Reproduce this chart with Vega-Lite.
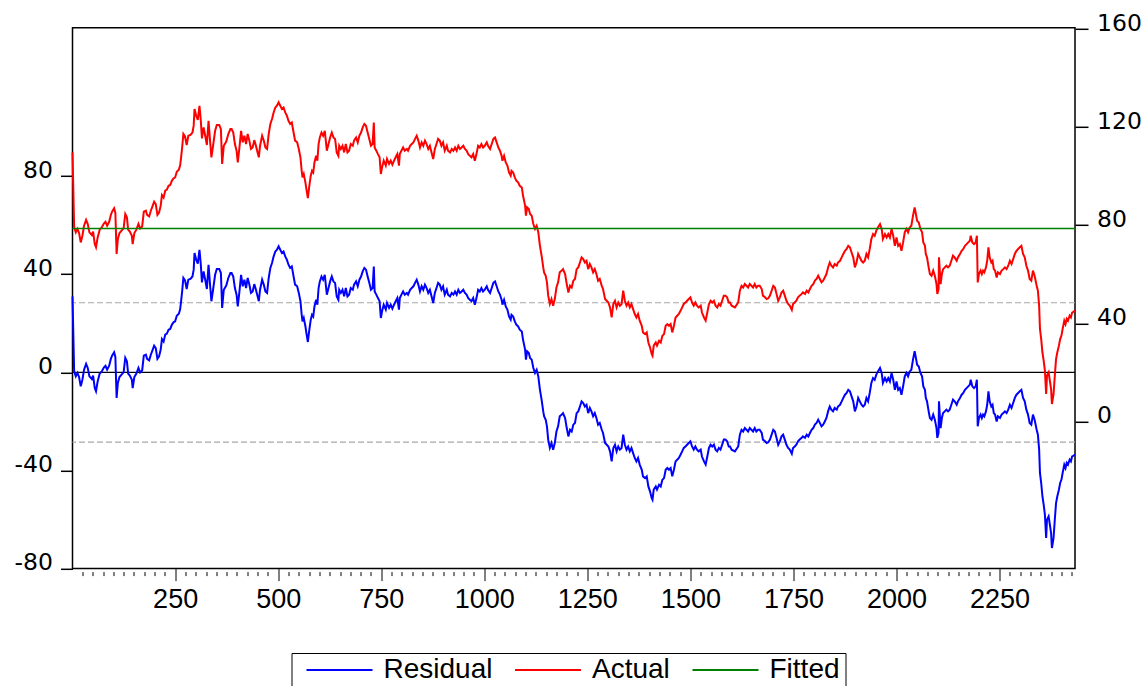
{
"$schema": "https://vega.github.io/schema/vega-lite/v6.json",
"width": 1002.5,
"height": 540.8,
"autosize": {"type": "none"},
"padding": {"left": 72.5, "top": 27.8, "right": 70, "bottom": 117.4},
"background": "white",
"config": {
  "view": {"stroke": "black", "strokeWidth": 1.5},
  "axis": {"grid": false, "domain": false, "tickColor": "black", "labelColor": "black"}
},
"datasets": {
"series": [
{"obs":1,"residual":31.0,"actual":109.7,"fitted":78.7},
{"obs":5,"residual":0.4,"actual":79.1,"fitted":78.7},
{"obs":9,"residual":-1.6,"actual":77.1,"fitted":78.7},
{"obs":13,"residual":-0.2,"actual":78.5,"fitted":78.7},
{"obs":17,"residual":-1.9,"actual":76.8,"fitted":78.7},
{"obs":21,"residual":-5.7,"actual":73.0,"fitted":78.7},
{"obs":25,"residual":-3.0,"actual":75.7,"fitted":78.7},
{"obs":29,"residual":1.1,"actual":79.8,"fitted":78.7},
{"obs":34,"residual":3.5,"actual":82.2,"fitted":78.7},
{"obs":38,"residual":1.8,"actual":80.5,"fitted":78.7},
{"obs":42,"residual":-1.6,"actual":77.1,"fitted":78.7},
{"obs":48,"residual":-2.7,"actual":76.0,"fitted":78.7},
{"obs":51,"residual":-1.3,"actual":77.4,"fitted":78.7},
{"obs":55,"residual":-6.4,"actual":72.3,"fitted":78.7},
{"obs":58,"residual":-7.7,"actual":71.0,"fitted":78.7},
{"obs":62,"residual":-3.7,"actual":75.0,"fitted":78.7},
{"obs":67,"residual":-0.5,"actual":78.2,"fitted":78.7},
{"obs":72,"residual":0.4,"actual":79.1,"fitted":78.7},
{"obs":77,"residual":2.0,"actual":80.7,"fitted":78.7},
{"obs":81,"residual":2.7,"actual":81.4,"fitted":78.7},
{"obs":85,"residual":1.1,"actual":79.8,"fitted":78.7},
{"obs":90,"residual":2.7,"actual":81.4,"fitted":78.7},
{"obs":94,"residual":5.5,"actual":84.2,"fitted":78.7},
{"obs":97,"residual":6.8,"actual":85.5,"fitted":78.7},
{"obs":102,"residual":8.2,"actual":86.9,"fitted":78.7},
{"obs":105,"residual":6.3,"actual":85.0,"fitted":78.7},
{"obs":108,"residual":-10.4,"actual":68.3,"fitted":78.7},
{"obs":111,"residual":-4.3,"actual":74.4,"fitted":78.7},
{"obs":115,"residual":-1.9,"actual":76.8,"fitted":78.7},
{"obs":120,"residual":-0.9,"actual":77.8,"fitted":78.7},
{"obs":125,"residual":0.0,"actual":78.7,"fitted":78.7},
{"obs":129,"residual":5.9,"actual":84.6,"fitted":78.7},
{"obs":133,"residual":4.5,"actual":83.2,"fitted":78.7},
{"obs":136,"residual":-0.5,"actual":78.2,"fitted":78.7},
{"obs":140,"residual":-1.3,"actual":77.4,"fitted":78.7},
{"obs":145,"residual":-3.0,"actual":75.7,"fitted":78.7},
{"obs":147,"residual":-6.4,"actual":72.3,"fitted":78.7},
{"obs":151,"residual":-1.9,"actual":76.8,"fitted":78.7},
{"obs":156,"residual":-0.5,"actual":78.2,"fitted":78.7},
{"obs":161,"residual":1.8,"actual":80.5,"fitted":78.7},
{"obs":165,"residual":0.0,"actual":78.7,"fitted":78.7},
{"obs":170,"residual":0.8,"actual":79.5,"fitted":78.7},
{"obs":174,"residual":6.8,"actual":85.5,"fitted":78.7},
{"obs":179,"residual":7.2,"actual":85.9,"fitted":78.7},
{"obs":182,"residual":5.5,"actual":84.2,"fitted":78.7},
{"obs":187,"residual":4.9,"actual":83.6,"fitted":78.7},
{"obs":191,"residual":7.2,"actual":85.9,"fitted":78.7},
{"obs":195,"residual":9.0,"actual":87.7,"fitted":78.7},
{"obs":199,"residual":10.9,"actual":89.6,"fitted":78.7},
{"obs":203,"residual":9.9,"actual":88.6,"fitted":78.7},
{"obs":207,"residual":5.5,"actual":84.2,"fitted":78.7},
{"obs":211,"residual":6.5,"actual":85.2,"fitted":78.7},
{"obs":215,"residual":9.3,"actual":88.0,"fitted":78.7},
{"obs":218,"residual":13.6,"actual":92.3,"fitted":78.7},
{"obs":222,"residual":12.6,"actual":91.3,"fitted":78.7},
{"obs":226,"residual":15.4,"actual":94.1,"fitted":78.7},
{"obs":230,"residual":15.8,"actual":94.5,"fitted":78.7},
{"obs":234,"residual":17.4,"actual":96.1,"fitted":78.7},
{"obs":238,"residual":17.7,"actual":96.4,"fitted":78.7},
{"obs":242,"residual":19.4,"actual":98.1,"fitted":78.7},
{"obs":246,"residual":20.4,"actual":99.1,"fitted":78.7},
{"obs":250,"residual":20.8,"actual":99.5,"fitted":78.7},
{"obs":254,"residual":23.1,"actual":101.8,"fitted":78.7},
{"obs":259,"residual":23.9,"actual":102.6,"fitted":78.7},
{"obs":262,"residual":25.6,"actual":104.3,"fitted":78.7},
{"obs":264,"residual":28.3,"actual":107.0,"fitted":78.7},
{"obs":267,"residual":33.0,"actual":111.7,"fitted":78.7},
{"obs":270,"residual":38.5,"actual":117.2,"fitted":78.7},
{"obs":274,"residual":37.5,"actual":116.2,"fitted":78.7},
{"obs":278,"residual":34.0,"actual":112.7,"fitted":78.7},
{"obs":282,"residual":37.8,"actual":116.5,"fitted":78.7},
{"obs":287,"residual":38.1,"actual":116.8,"fitted":78.7},
{"obs":292,"residual":39.1,"actual":117.8,"fitted":78.7},
{"obs":295,"residual":41.9,"actual":120.6,"fitted":78.7},
{"obs":297,"residual":48.7,"actual":127.4,"fitted":78.7},
{"obs":301,"residual":46.0,"actual":124.7,"fitted":78.7},
{"obs":305,"residual":44.3,"actual":123.0,"fitted":78.7},
{"obs":309,"residual":50.0,"actual":128.7,"fitted":78.7},
{"obs":312,"residual":44.6,"actual":123.3,"fitted":78.7},
{"obs":315,"residual":36.7,"actual":115.4,"fitted":78.7},
{"obs":319,"residual":41.2,"actual":119.9,"fitted":78.7},
{"obs":323,"residual":37.8,"actual":116.5,"fitted":78.7},
{"obs":327,"residual":34.0,"actual":112.7,"fitted":78.7},
{"obs":331,"residual":43.9,"actual":122.6,"fitted":78.7},
{"obs":335,"residual":35.1,"actual":113.8,"fitted":78.7},
{"obs":338,"residual":29.0,"actual":107.7,"fitted":78.7},
{"obs":342,"residual":33.7,"actual":112.4,"fitted":78.7},
{"obs":347,"residual":39.8,"actual":118.5,"fitted":78.7},
{"obs":351,"residual":42.2,"actual":120.9,"fitted":78.7},
{"obs":357,"residual":42.2,"actual":120.9,"fitted":78.7},
{"obs":361,"residual":40.5,"actual":119.2,"fitted":78.7},
{"obs":364,"residual":26.3,"actual":105.0,"fitted":78.7},
{"obs":368,"residual":33.7,"actual":112.4,"fitted":78.7},
{"obs":374,"residual":35.4,"actual":114.1,"fitted":78.7},
{"obs":379,"residual":38.5,"actual":117.2,"fitted":78.7},
{"obs":384,"residual":40.5,"actual":119.2,"fitted":78.7},
{"obs":387,"residual":40.5,"actual":119.2,"fitted":78.7},
{"obs":391,"residual":39.1,"actual":117.8,"fitted":78.7},
{"obs":395,"residual":34.4,"actual":113.1,"fitted":78.7},
{"obs":399,"residual":31.7,"actual":110.4,"fitted":78.7},
{"obs":402,"residual":26.9,"actual":105.6,"fitted":78.7},
{"obs":406,"residual":33.0,"actual":111.7,"fitted":78.7},
{"obs":410,"residual":39.8,"actual":118.5,"fitted":78.7},
{"obs":414,"residual":35.1,"actual":113.8,"fitted":78.7},
{"obs":418,"residual":37.8,"actual":116.5,"fitted":78.7},
{"obs":422,"residual":34.4,"actual":113.1,"fitted":78.7},
{"obs":426,"residual":38.5,"actual":117.2,"fitted":78.7},
{"obs":430,"residual":35.8,"actual":114.5,"fitted":78.7},
{"obs":434,"residual":32.4,"actual":111.1,"fitted":78.7},
{"obs":438,"residual":33.0,"actual":111.7,"fitted":78.7},
{"obs":442,"residual":36.0,"actual":114.7,"fitted":78.7},
{"obs":446,"residual":33.7,"actual":112.4,"fitted":78.7},
{"obs":450,"residual":31.0,"actual":109.7,"fitted":78.7},
{"obs":453,"residual":29.0,"actual":107.7,"fitted":78.7},
{"obs":456,"residual":33.7,"actual":112.4,"fitted":78.7},
{"obs":461,"residual":37.8,"actual":116.5,"fitted":78.7},
{"obs":465,"residual":35.8,"actual":114.5,"fitted":78.7},
{"obs":469,"residual":33.0,"actual":111.7,"fitted":78.7},
{"obs":473,"residual":32.4,"actual":111.1,"fitted":78.7},
{"obs":477,"residual":38.5,"actual":117.2,"fitted":78.7},
{"obs":481,"residual":42.6,"actual":121.3,"fitted":78.7},
{"obs":485,"residual":44.6,"actual":123.3,"fitted":78.7},
{"obs":489,"residual":47.3,"actual":126.0,"fitted":78.7},
{"obs":493,"residual":49.3,"actual":128.0,"fitted":78.7},
{"obs":497,"residual":50.0,"actual":128.7,"fitted":78.7},
{"obs":501,"residual":51.4,"actual":130.1,"fitted":78.7},
{"obs":505,"residual":50.0,"actual":128.7,"fitted":78.7},
{"obs":509,"residual":48.7,"actual":127.4,"fitted":78.7},
{"obs":513,"residual":49.3,"actual":128.0,"fitted":78.7},
{"obs":517,"residual":47.3,"actual":126.0,"fitted":78.7},
{"obs":521,"residual":46.0,"actual":124.7,"fitted":78.7},
{"obs":525,"residual":43.9,"actual":122.6,"fitted":78.7},
{"obs":529,"residual":42.6,"actual":121.3,"fitted":78.7},
{"obs":533,"residual":43.2,"actual":121.9,"fitted":78.7},
{"obs":538,"residual":38.5,"actual":117.2,"fitted":78.7},
{"obs":541,"residual":35.8,"actual":114.5,"fitted":78.7},
{"obs":546,"residual":35.1,"actual":113.8,"fitted":78.7},
{"obs":550,"residual":32.4,"actual":111.1,"fitted":78.7},
{"obs":554,"residual":29.0,"actual":107.7,"fitted":78.7},
{"obs":557,"residual":23.5,"actual":102.2,"fitted":78.7},
{"obs":559,"residual":20.8,"actual":99.5,"fitted":78.7},
{"obs":562,"residual":22.2,"actual":100.9,"fitted":78.7},
{"obs":566,"residual":18.8,"actual":97.5,"fitted":78.7},
{"obs":569,"residual":15.4,"actual":94.1,"fitted":78.7},
{"obs":572,"residual":12.4,"actual":91.1,"fitted":78.7},
{"obs":575,"residual":16.7,"actual":95.4,"fitted":78.7},
{"obs":579,"residual":21.5,"actual":100.2,"fitted":78.7},
{"obs":582,"residual":23.5,"actual":102.2,"fitted":78.7},
{"obs":585,"residual":22.8,"actual":101.5,"fitted":78.7},
{"obs":588,"residual":26.9,"actual":105.6,"fitted":78.7},
{"obs":592,"residual":29.6,"actual":108.3,"fitted":78.7},
{"obs":595,"residual":27.6,"actual":106.3,"fitted":78.7},
{"obs":598,"residual":34.4,"actual":113.1,"fitted":78.7},
{"obs":601,"residual":37.1,"actual":115.8,"fitted":78.7},
{"obs":605,"residual":39.1,"actual":117.8,"fitted":78.7},
{"obs":609,"residual":37.8,"actual":116.5,"fitted":78.7},
{"obs":613,"residual":39.8,"actual":118.5,"fitted":78.7},
{"obs":618,"residual":31.7,"actual":110.4,"fitted":78.7},
{"obs":621,"residual":33.7,"actual":112.4,"fitted":78.7},
{"obs":626,"residual":37.1,"actual":115.8,"fitted":78.7},
{"obs":630,"residual":39.1,"actual":117.8,"fitted":78.7},
{"obs":634,"residual":37.1,"actual":115.8,"fitted":78.7},
{"obs":638,"residual":36.5,"actual":115.2,"fitted":78.7},
{"obs":642,"residual":31.0,"actual":109.7,"fitted":78.7},
{"obs":646,"residual":29.6,"actual":108.3,"fitted":78.7},
{"obs":648,"residual":33.7,"actual":112.4,"fitted":78.7},
{"obs":652,"residual":32.4,"actual":111.1,"fitted":78.7},
{"obs":656,"residual":33.7,"actual":112.4,"fitted":78.7},
{"obs":660,"residual":31.0,"actual":109.7,"fitted":78.7},
{"obs":664,"residual":34.4,"actual":113.1,"fitted":78.7},
{"obs":668,"residual":31.0,"actual":109.7,"fitted":78.7},
{"obs":672,"residual":31.7,"actual":110.4,"fitted":78.7},
{"obs":676,"residual":34.4,"actual":113.1,"fitted":78.7},
{"obs":681,"residual":33.7,"actual":112.4,"fitted":78.7},
{"obs":684,"residual":35.8,"actual":114.5,"fitted":78.7},
{"obs":689,"residual":37.1,"actual":115.8,"fitted":78.7},
{"obs":693,"residual":35.1,"actual":113.8,"fitted":78.7},
{"obs":697,"residual":37.8,"actual":116.5,"fitted":78.7},
{"obs":701,"residual":39.1,"actual":117.8,"fitted":78.7},
{"obs":705,"residual":41.2,"actual":119.9,"fitted":78.7},
{"obs":709,"residual":42.6,"actual":121.3,"fitted":78.7},
{"obs":713,"residual":41.9,"actual":120.6,"fitted":78.7},
{"obs":717,"residual":39.1,"actual":117.8,"fitted":78.7},
{"obs":721,"residual":36.5,"actual":115.2,"fitted":78.7},
{"obs":725,"residual":33.7,"actual":112.4,"fitted":78.7},
{"obs":729,"residual":34.4,"actual":113.1,"fitted":78.7},
{"obs":732,"residual":43.2,"actual":121.9,"fitted":78.7},
{"obs":734,"residual":33.0,"actual":111.7,"fitted":78.7},
{"obs":738,"residual":31.7,"actual":110.4,"fitted":78.7},
{"obs":742,"residual":30.3,"actual":109.0,"fitted":78.7},
{"obs":746,"residual":29.0,"actual":107.7,"fitted":78.7},
{"obs":749,"residual":22.2,"actual":100.9,"fitted":78.7},
{"obs":752,"residual":24.9,"actual":103.6,"fitted":78.7},
{"obs":756,"residual":27.6,"actual":106.3,"fitted":78.7},
{"obs":761,"residual":25.6,"actual":104.3,"fitted":78.7},
{"obs":764,"residual":28.3,"actual":107.0,"fitted":78.7},
{"obs":769,"residual":26.3,"actual":105.0,"fitted":78.7},
{"obs":773,"residual":27.6,"actual":106.3,"fitted":78.7},
{"obs":777,"residual":26.0,"actual":104.7,"fitted":78.7},
{"obs":781,"residual":27.6,"actual":106.3,"fitted":78.7},
{"obs":785,"residual":29.0,"actual":107.7,"fitted":78.7},
{"obs":789,"residual":30.3,"actual":109.0,"fitted":78.7},
{"obs":793,"residual":25.6,"actual":104.3,"fitted":78.7},
{"obs":795,"residual":30.3,"actual":109.0,"fitted":78.7},
{"obs":799,"residual":31.7,"actual":110.4,"fitted":78.7},
{"obs":803,"residual":33.0,"actual":111.7,"fitted":78.7},
{"obs":807,"residual":31.7,"actual":110.4,"fitted":78.7},
{"obs":812,"residual":32.4,"actual":111.1,"fitted":78.7},
{"obs":815,"residual":31.7,"actual":110.4,"fitted":78.7},
{"obs":820,"residual":33.7,"actual":112.4,"fitted":78.7},
{"obs":824,"residual":34.4,"actual":113.1,"fitted":78.7},
{"obs":828,"residual":35.1,"actual":113.8,"fitted":78.7},
{"obs":832,"residual":36.5,"actual":115.2,"fitted":78.7},
{"obs":836,"residual":37.8,"actual":116.5,"fitted":78.7},
{"obs":840,"residual":35.8,"actual":114.5,"fitted":78.7},
{"obs":844,"residual":33.0,"actual":111.7,"fitted":78.7},
{"obs":848,"residual":35.1,"actual":113.8,"fitted":78.7},
{"obs":852,"residual":33.7,"actual":112.4,"fitted":78.7},
{"obs":856,"residual":35.8,"actual":114.5,"fitted":78.7},
{"obs":860,"residual":34.4,"actual":113.1,"fitted":78.7},
{"obs":864,"residual":32.4,"actual":111.1,"fitted":78.7},
{"obs":868,"residual":33.7,"actual":112.4,"fitted":78.7},
{"obs":872,"residual":31.0,"actual":109.7,"fitted":78.7},
{"obs":876,"residual":28.3,"actual":107.0,"fitted":78.7},
{"obs":880,"residual":32.4,"actual":111.1,"fitted":78.7},
{"obs":884,"residual":34.4,"actual":113.1,"fitted":78.7},
{"obs":888,"residual":36.5,"actual":115.2,"fitted":78.7},
{"obs":892,"residual":35.8,"actual":114.5,"fitted":78.7},
{"obs":896,"residual":33.7,"actual":112.4,"fitted":78.7},
{"obs":900,"residual":35.1,"actual":113.8,"fitted":78.7},
{"obs":904,"residual":31.7,"actual":110.4,"fitted":78.7},
{"obs":909,"residual":33.7,"actual":112.4,"fitted":78.7},
{"obs":912,"residual":31.7,"actual":110.4,"fitted":78.7},
{"obs":917,"residual":31.0,"actual":109.7,"fitted":78.7},
{"obs":921,"residual":32.4,"actual":111.1,"fitted":78.7},
{"obs":925,"residual":31.7,"actual":110.4,"fitted":78.7},
{"obs":929,"residual":33.0,"actual":111.7,"fitted":78.7},
{"obs":933,"residual":31.7,"actual":110.4,"fitted":78.7},
{"obs":937,"residual":33.7,"actual":112.4,"fitted":78.7},
{"obs":941,"residual":32.4,"actual":111.1,"fitted":78.7},
{"obs":945,"residual":33.0,"actual":111.7,"fitted":78.7},
{"obs":949,"residual":33.7,"actual":112.4,"fitted":78.7},
{"obs":953,"residual":32.4,"actual":111.1,"fitted":78.7},
{"obs":957,"residual":31.7,"actual":110.4,"fitted":78.7},
{"obs":961,"residual":30.3,"actual":109.0,"fitted":78.7},
{"obs":965,"residual":29.6,"actual":108.3,"fitted":78.7},
{"obs":969,"residual":29.0,"actual":107.7,"fitted":78.7},
{"obs":973,"residual":30.3,"actual":109.0,"fitted":78.7},
{"obs":977,"residual":27.6,"actual":106.3,"fitted":78.7},
{"obs":981,"residual":30.3,"actual":109.0,"fitted":78.7},
{"obs":985,"residual":33.7,"actual":112.4,"fitted":78.7},
{"obs":989,"residual":33.0,"actual":111.7,"fitted":78.7},
{"obs":993,"residual":34.4,"actual":113.1,"fitted":78.7},
{"obs":997,"residual":33.0,"actual":111.7,"fitted":78.7},
{"obs":1001,"residual":33.7,"actual":112.4,"fitted":78.7},
{"obs":1006,"residual":35.1,"actual":113.8,"fitted":78.7},
{"obs":1009,"residual":33.7,"actual":112.4,"fitted":78.7},
{"obs":1014,"residual":32.4,"actual":111.1,"fitted":78.7},
{"obs":1018,"residual":34.4,"actual":113.1,"fitted":78.7},
{"obs":1022,"residual":36.5,"actual":115.2,"fitted":78.7},
{"obs":1026,"residual":37.1,"actual":115.8,"fitted":78.7},
{"obs":1030,"residual":35.1,"actual":113.8,"fitted":78.7},
{"obs":1034,"residual":33.0,"actual":111.7,"fitted":78.7},
{"obs":1038,"residual":31.7,"actual":110.4,"fitted":78.7},
{"obs":1042,"residual":29.6,"actual":108.3,"fitted":78.7},
{"obs":1044,"residual":27.6,"actual":106.3,"fitted":78.7},
{"obs":1048,"residual":29.6,"actual":108.3,"fitted":78.7},
{"obs":1052,"residual":26.9,"actual":105.6,"fitted":78.7},
{"obs":1056,"residual":25.6,"actual":104.3,"fitted":78.7},
{"obs":1060,"residual":22.8,"actual":101.5,"fitted":78.7},
{"obs":1064,"residual":21.5,"actual":100.2,"fitted":78.7},
{"obs":1066,"residual":23.5,"actual":102.2,"fitted":78.7},
{"obs":1070,"residual":22.8,"actual":101.5,"fitted":78.7},
{"obs":1074,"residual":20.8,"actual":99.5,"fitted":78.7},
{"obs":1078,"residual":19.4,"actual":98.1,"fitted":78.7},
{"obs":1082,"residual":18.8,"actual":97.5,"fitted":78.7},
{"obs":1086,"residual":17.4,"actual":96.1,"fitted":78.7},
{"obs":1091,"residual":16.7,"actual":95.4,"fitted":78.7},
{"obs":1094,"residual":13.3,"actual":92.0,"fitted":78.7},
{"obs":1099,"residual":9.3,"actual":88.0,"fitted":78.7},
{"obs":1101,"residual":5.2,"actual":83.9,"fitted":78.7},
{"obs":1104,"residual":8.6,"actual":87.3,"fitted":78.7},
{"obs":1108,"residual":7.9,"actual":86.6,"fitted":78.7},
{"obs":1111,"residual":5.9,"actual":84.6,"fitted":78.7},
{"obs":1115,"residual":5.2,"actual":83.9,"fitted":78.7},
{"obs":1119,"residual":1.8,"actual":80.5,"fitted":78.7},
{"obs":1123,"residual":-0.2,"actual":78.5,"fitted":78.7},
{"obs":1127,"residual":1.1,"actual":79.8,"fitted":78.7},
{"obs":1131,"residual":-1.6,"actual":77.1,"fitted":78.7},
{"obs":1135,"residual":-7.1,"actual":71.6,"fitted":78.7},
{"obs":1139,"residual":-11.1,"actual":67.6,"fitted":78.7},
{"obs":1143,"residual":-15.9,"actual":62.8,"fitted":78.7},
{"obs":1145,"residual":-17.9,"actual":60.8,"fitted":78.7},
{"obs":1149,"residual":-19.3,"actual":59.4,"fitted":78.7},
{"obs":1152,"residual":-22.0,"actual":56.7,"fitted":78.7},
{"obs":1155,"residual":-27.4,"actual":51.3,"fitted":78.7},
{"obs":1159,"residual":-30.8,"actual":47.9,"fitted":78.7},
{"obs":1163,"residual":-28.8,"actual":49.9,"fitted":78.7},
{"obs":1167,"residual":-31.5,"actual":47.2,"fitted":78.7},
{"obs":1171,"residual":-28.8,"actual":49.9,"fitted":78.7},
{"obs":1175,"residual":-24.1,"actual":54.6,"fitted":78.7},
{"obs":1179,"residual":-22.0,"actual":56.7,"fitted":78.7},
{"obs":1183,"residual":-17.9,"actual":60.8,"fitted":78.7},
{"obs":1188,"residual":-17.2,"actual":61.5,"fitted":78.7},
{"obs":1191,"residual":-16.6,"actual":62.1,"fitted":78.7},
{"obs":1196,"residual":-18.6,"actual":60.1,"fitted":78.7},
{"obs":1200,"residual":-22.7,"actual":56.0,"fitted":78.7},
{"obs":1204,"residual":-26.1,"actual":52.6,"fitted":78.7},
{"obs":1208,"residual":-23.4,"actual":55.3,"fitted":78.7},
{"obs":1212,"residual":-24.1,"actual":54.6,"fitted":78.7},
{"obs":1216,"residual":-21.3,"actual":57.4,"fitted":78.7},
{"obs":1220,"residual":-20.6,"actual":58.1,"fitted":78.7},
{"obs":1224,"residual":-16.6,"actual":62.1,"fitted":78.7},
{"obs":1228,"residual":-15.9,"actual":62.8,"fitted":78.7},
{"obs":1232,"residual":-13.9,"actual":64.8,"fitted":78.7},
{"obs":1236,"residual":-11.8,"actual":66.9,"fitted":78.7},
{"obs":1240,"residual":-12.5,"actual":66.2,"fitted":78.7},
{"obs":1244,"residual":-13.9,"actual":64.8,"fitted":78.7},
{"obs":1248,"residual":-13.2,"actual":65.5,"fitted":78.7},
{"obs":1252,"residual":-16.6,"actual":62.1,"fitted":78.7},
{"obs":1256,"residual":-14.5,"actual":64.2,"fitted":78.7},
{"obs":1260,"residual":-15.9,"actual":62.8,"fitted":78.7},
{"obs":1264,"residual":-17.9,"actual":60.8,"fitted":78.7},
{"obs":1268,"residual":-16.6,"actual":62.1,"fitted":78.7},
{"obs":1272,"residual":-18.6,"actual":60.1,"fitted":78.7},
{"obs":1276,"residual":-21.3,"actual":57.4,"fitted":78.7},
{"obs":1280,"residual":-20.6,"actual":58.1,"fitted":78.7},
{"obs":1285,"residual":-23.4,"actual":55.3,"fitted":78.7},
{"obs":1288,"residual":-24.7,"actual":54.0,"fitted":78.7},
{"obs":1293,"residual":-28.8,"actual":49.9,"fitted":78.7},
{"obs":1297,"residual":-29.5,"actual":49.2,"fitted":78.7},
{"obs":1301,"residual":-30.2,"actual":48.5,"fitted":78.7},
{"obs":1305,"residual":-32.2,"actual":46.5,"fitted":78.7},
{"obs":1309,"residual":-36.3,"actual":42.4,"fitted":78.7},
{"obs":1313,"residual":-30.8,"actual":47.9,"fitted":78.7},
{"obs":1317,"residual":-29.5,"actual":49.2,"fitted":78.7},
{"obs":1321,"residual":-32.2,"actual":46.5,"fitted":78.7},
{"obs":1325,"residual":-30.2,"actual":48.5,"fitted":78.7},
{"obs":1329,"residual":-31.5,"actual":47.2,"fitted":78.7},
{"obs":1333,"residual":-30.8,"actual":47.9,"fitted":78.7},
{"obs":1337,"residual":-25.4,"actual":53.3,"fitted":78.7},
{"obs":1341,"residual":-29.5,"actual":49.2,"fitted":78.7},
{"obs":1345,"residual":-31.5,"actual":47.2,"fitted":78.7},
{"obs":1349,"residual":-30.2,"actual":48.5,"fitted":78.7},
{"obs":1353,"residual":-32.2,"actual":46.5,"fitted":78.7},
{"obs":1357,"residual":-30.8,"actual":47.9,"fitted":78.7},
{"obs":1361,"residual":-32.9,"actual":45.8,"fitted":78.7},
{"obs":1365,"residual":-34.9,"actual":43.8,"fitted":78.7},
{"obs":1369,"residual":-36.3,"actual":42.4,"fitted":78.7},
{"obs":1373,"residual":-34.9,"actual":43.8,"fitted":78.7},
{"obs":1377,"residual":-37.6,"actual":41.1,"fitted":78.7},
{"obs":1382,"residual":-39.7,"actual":39.0,"fitted":78.7},
{"obs":1385,"residual":-42.4,"actual":36.3,"fitted":78.7},
{"obs":1390,"residual":-43.1,"actual":35.6,"fitted":78.7},
{"obs":1394,"residual":-42.4,"actual":36.3,"fitted":78.7},
{"obs":1398,"residual":-46.5,"actual":32.2,"fitted":78.7},
{"obs":1402,"residual":-48.5,"actual":30.2,"fitted":78.7},
{"obs":1406,"residual":-51.2,"actual":27.5,"fitted":78.7},
{"obs":1408,"residual":-51.9,"actual":26.8,"fitted":78.7},
{"obs":1411,"residual":-47.8,"actual":30.9,"fitted":78.7},
{"obs":1416,"residual":-46.5,"actual":32.2,"fitted":78.7},
{"obs":1419,"residual":-47.8,"actual":30.9,"fitted":78.7},
{"obs":1424,"residual":-45.8,"actual":32.9,"fitted":78.7},
{"obs":1428,"residual":-46.5,"actual":32.2,"fitted":78.7},
{"obs":1432,"residual":-43.8,"actual":34.9,"fitted":78.7},
{"obs":1436,"residual":-43.1,"actual":35.6,"fitted":78.7},
{"obs":1440,"residual":-39.7,"actual":39.0,"fitted":78.7},
{"obs":1444,"residual":-39.0,"actual":39.7,"fitted":78.7},
{"obs":1448,"residual":-39.7,"actual":39.0,"fitted":78.7},
{"obs":1452,"residual":-39.0,"actual":39.7,"fitted":78.7},
{"obs":1456,"residual":-42.4,"actual":36.3,"fitted":78.7},
{"obs":1460,"residual":-39.7,"actual":39.0,"fitted":78.7},
{"obs":1464,"residual":-36.3,"actual":42.4,"fitted":78.7},
{"obs":1468,"residual":-35.6,"actual":43.1,"fitted":78.7},
{"obs":1472,"residual":-34.9,"actual":43.8,"fitted":78.7},
{"obs":1476,"residual":-33.6,"actual":45.1,"fitted":78.7},
{"obs":1480,"residual":-32.2,"actual":46.5,"fitted":78.7},
{"obs":1484,"residual":-30.8,"actual":47.9,"fitted":78.7},
{"obs":1488,"residual":-30.2,"actual":48.5,"fitted":78.7},
{"obs":1492,"residual":-29.5,"actual":49.2,"fitted":78.7},
{"obs":1496,"residual":-28.8,"actual":49.9,"fitted":78.7},
{"obs":1500,"residual":-28.1,"actual":50.6,"fitted":78.7},
{"obs":1504,"residual":-30.2,"actual":48.5,"fitted":78.7},
{"obs":1508,"residual":-31.5,"actual":47.2,"fitted":78.7},
{"obs":1512,"residual":-30.2,"actual":48.5,"fitted":78.7},
{"obs":1516,"residual":-31.5,"actual":47.2,"fitted":78.7},
{"obs":1520,"residual":-32.2,"actual":46.5,"fitted":78.7},
{"obs":1525,"residual":-31.5,"actual":47.2,"fitted":78.7},
{"obs":1528,"residual":-34.3,"actual":44.4,"fitted":78.7},
{"obs":1533,"residual":-36.3,"actual":42.4,"fitted":78.7},
{"obs":1537,"residual":-37.6,"actual":41.1,"fitted":78.7},
{"obs":1541,"residual":-34.3,"actual":44.4,"fitted":78.7},
{"obs":1545,"residual":-30.8,"actual":47.9,"fitted":78.7},
{"obs":1549,"residual":-29.5,"actual":49.2,"fitted":78.7},
{"obs":1553,"residual":-30.2,"actual":48.5,"fitted":78.7},
{"obs":1557,"residual":-29.5,"actual":49.2,"fitted":78.7},
{"obs":1561,"residual":-31.5,"actual":47.2,"fitted":78.7},
{"obs":1565,"residual":-32.2,"actual":46.5,"fitted":78.7},
{"obs":1569,"residual":-30.8,"actual":47.9,"fitted":78.7},
{"obs":1573,"residual":-31.5,"actual":47.2,"fitted":78.7},
{"obs":1577,"residual":-29.5,"actual":49.2,"fitted":78.7},
{"obs":1581,"residual":-27.4,"actual":51.3,"fitted":78.7},
{"obs":1585,"residual":-27.4,"actual":51.3,"fitted":78.7},
{"obs":1589,"residual":-28.1,"actual":50.6,"fitted":78.7},
{"obs":1593,"residual":-30.2,"actual":48.5,"fitted":78.7},
{"obs":1596,"residual":-30.2,"actual":48.5,"fitted":78.7},
{"obs":1600,"residual":-31.5,"actual":47.2,"fitted":78.7},
{"obs":1608,"residual":-32.2,"actual":46.5,"fitted":78.7},
{"obs":1616,"residual":-30.2,"actual":48.5,"fitted":78.7},
{"obs":1620,"residual":-25.4,"actual":53.3,"fitted":78.7},
{"obs":1624,"residual":-23.4,"actual":55.3,"fitted":78.7},
{"obs":1628,"residual":-24.1,"actual":54.6,"fitted":78.7},
{"obs":1632,"residual":-22.7,"actual":56.0,"fitted":78.7},
{"obs":1636,"residual":-23.4,"actual":55.3,"fitted":78.7},
{"obs":1640,"residual":-24.1,"actual":54.6,"fitted":78.7},
{"obs":1644,"residual":-22.7,"actual":56.0,"fitted":78.7},
{"obs":1648,"residual":-23.4,"actual":55.3,"fitted":78.7},
{"obs":1652,"residual":-24.1,"actual":54.6,"fitted":78.7},
{"obs":1656,"residual":-22.7,"actual":56.0,"fitted":78.7},
{"obs":1660,"residual":-24.1,"actual":54.6,"fitted":78.7},
{"obs":1664,"residual":-23.4,"actual":55.3,"fitted":78.7},
{"obs":1668,"residual":-23.4,"actual":55.3,"fitted":78.7},
{"obs":1673,"residual":-24.7,"actual":54.0,"fitted":78.7},
{"obs":1676,"residual":-27.4,"actual":51.3,"fitted":78.7},
{"obs":1681,"residual":-28.1,"actual":50.6,"fitted":78.7},
{"obs":1685,"residual":-28.8,"actual":49.9,"fitted":78.7},
{"obs":1689,"residual":-28.5,"actual":50.2,"fitted":78.7},
{"obs":1693,"residual":-27.4,"actual":51.3,"fitted":78.7},
{"obs":1697,"residual":-25.4,"actual":53.3,"fitted":78.7},
{"obs":1701,"residual":-23.4,"actual":55.3,"fitted":78.7},
{"obs":1705,"residual":-24.1,"actual":54.6,"fitted":78.7},
{"obs":1709,"residual":-26.7,"actual":52.0,"fitted":78.7},
{"obs":1713,"residual":-29.5,"actual":49.2,"fitted":78.7},
{"obs":1717,"residual":-28.1,"actual":50.6,"fitted":78.7},
{"obs":1721,"residual":-26.1,"actual":52.6,"fitted":78.7},
{"obs":1725,"residual":-25.4,"actual":53.3,"fitted":78.7},
{"obs":1729,"residual":-27.4,"actual":51.3,"fitted":78.7},
{"obs":1733,"residual":-29.5,"actual":49.2,"fitted":78.7},
{"obs":1737,"residual":-30.8,"actual":47.9,"fitted":78.7},
{"obs":1741,"residual":-31.5,"actual":47.2,"fitted":78.7},
{"obs":1746,"residual":-33.2,"actual":45.5,"fitted":78.7},
{"obs":1749,"residual":-30.8,"actual":47.9,"fitted":78.7},
{"obs":1753,"residual":-30.2,"actual":48.5,"fitted":78.7},
{"obs":1757,"residual":-29.5,"actual":49.2,"fitted":78.7},
{"obs":1761,"residual":-28.1,"actual":50.6,"fitted":78.7},
{"obs":1765,"residual":-27.4,"actual":51.3,"fitted":78.7},
{"obs":1770,"residual":-26.7,"actual":52.0,"fitted":78.7},
{"obs":1773,"residual":-26.1,"actual":52.6,"fitted":78.7},
{"obs":1778,"residual":-26.7,"actual":52.0,"fitted":78.7},
{"obs":1782,"residual":-25.4,"actual":53.3,"fitted":78.7},
{"obs":1786,"residual":-26.1,"actual":52.6,"fitted":78.7},
{"obs":1790,"residual":-24.7,"actual":54.0,"fitted":78.7},
{"obs":1794,"residual":-23.4,"actual":55.3,"fitted":78.7},
{"obs":1798,"residual":-22.7,"actual":56.0,"fitted":78.7},
{"obs":1802,"residual":-21.3,"actual":57.4,"fitted":78.7},
{"obs":1806,"residual":-20.6,"actual":58.1,"fitted":78.7},
{"obs":1810,"residual":-19.3,"actual":59.4,"fitted":78.7},
{"obs":1814,"residual":-20.6,"actual":58.1,"fitted":78.7},
{"obs":1818,"residual":-22.0,"actual":56.7,"fitted":78.7},
{"obs":1822,"residual":-21.3,"actual":57.4,"fitted":78.7},
{"obs":1826,"residual":-20.0,"actual":58.7,"fitted":78.7},
{"obs":1830,"residual":-18.6,"actual":60.1,"fitted":78.7},
{"obs":1834,"residual":-15.9,"actual":62.8,"fitted":78.7},
{"obs":1838,"residual":-13.9,"actual":64.8,"fitted":78.7},
{"obs":1842,"residual":-15.2,"actual":63.5,"fitted":78.7},
{"obs":1846,"residual":-15.9,"actual":62.8,"fitted":78.7},
{"obs":1850,"residual":-14.5,"actual":64.2,"fitted":78.7},
{"obs":1855,"residual":-15.2,"actual":63.5,"fitted":78.7},
{"obs":1858,"residual":-13.9,"actual":64.8,"fitted":78.7},
{"obs":1863,"residual":-13.2,"actual":65.5,"fitted":78.7},
{"obs":1867,"residual":-11.8,"actual":66.9,"fitted":78.7},
{"obs":1871,"residual":-10.4,"actual":68.3,"fitted":78.7},
{"obs":1875,"residual":-9.1,"actual":69.6,"fitted":78.7},
{"obs":1879,"residual":-8.4,"actual":70.3,"fitted":78.7},
{"obs":1883,"residual":-7.1,"actual":71.6,"fitted":78.7},
{"obs":1887,"residual":-7.7,"actual":71.0,"fitted":78.7},
{"obs":1891,"residual":-9.8,"actual":68.9,"fitted":78.7},
{"obs":1895,"residual":-11.8,"actual":66.9,"fitted":78.7},
{"obs":1899,"residual":-15.9,"actual":62.8,"fitted":78.7},
{"obs":1903,"residual":-13.9,"actual":64.8,"fitted":78.7},
{"obs":1907,"residual":-10.4,"actual":68.3,"fitted":78.7},
{"obs":1911,"residual":-11.8,"actual":66.9,"fitted":78.7},
{"obs":1915,"residual":-13.2,"actual":65.5,"fitted":78.7},
{"obs":1919,"residual":-13.9,"actual":64.8,"fitted":78.7},
{"obs":1923,"residual":-13.2,"actual":65.5,"fitted":78.7},
{"obs":1927,"residual":-10.4,"actual":68.3,"fitted":78.7},
{"obs":1931,"residual":-11.8,"actual":66.9,"fitted":78.7},
{"obs":1935,"residual":-8.4,"actual":70.3,"fitted":78.7},
{"obs":1939,"residual":-4.3,"actual":74.4,"fitted":78.7},
{"obs":1943,"residual":-2.3,"actual":76.4,"fitted":78.7},
{"obs":1947,"residual":-3.0,"actual":75.7,"fitted":78.7},
{"obs":1951,"residual":-0.9,"actual":77.8,"fitted":78.7},
{"obs":1955,"residual":0.4,"actual":79.1,"fitted":78.7},
{"obs":1960,"residual":1.8,"actual":80.5,"fitted":78.7},
{"obs":1964,"residual":-0.2,"actual":78.5,"fitted":78.7},
{"obs":1967,"residual":-4.3,"actual":74.4,"fitted":78.7},
{"obs":1972,"residual":-2.3,"actual":76.4,"fitted":78.7},
{"obs":1976,"residual":-3.7,"actual":75.0,"fitted":78.7},
{"obs":1980,"residual":-2.3,"actual":76.4,"fitted":78.7},
{"obs":1984,"residual":-3.7,"actual":75.0,"fitted":78.7},
{"obs":1988,"residual":-0.2,"actual":78.5,"fitted":78.7},
{"obs":1992,"residual":-3.0,"actual":75.7,"fitted":78.7},
{"obs":1996,"residual":-7.1,"actual":71.6,"fitted":78.7},
{"obs":2000,"residual":-3.7,"actual":75.0,"fitted":78.7},
{"obs":2004,"residual":-7.1,"actual":71.6,"fitted":78.7},
{"obs":2008,"residual":-6.4,"actual":72.3,"fitted":78.7},
{"obs":2012,"residual":-9.1,"actual":69.6,"fitted":78.7},
{"obs":2016,"residual":-5.7,"actual":73.0,"fitted":78.7},
{"obs":2020,"residual":-1.6,"actual":77.1,"fitted":78.7},
{"obs":2024,"residual":-0.2,"actual":78.5,"fitted":78.7},
{"obs":2028,"residual":-1.6,"actual":77.1,"fitted":78.7},
{"obs":2032,"residual":0.4,"actual":79.1,"fitted":78.7},
{"obs":2036,"residual":1.1,"actual":79.8,"fitted":78.7},
{"obs":2040,"residual":5.2,"actual":83.9,"fitted":78.7},
{"obs":2044,"residual":8.6,"actual":87.3,"fitted":78.7},
{"obs":2047,"residual":5.9,"actual":84.6,"fitted":78.7},
{"obs":2050,"residual":3.1,"actual":81.8,"fitted":78.7},
{"obs":2054,"residual":2.4,"actual":81.1,"fitted":78.7},
{"obs":2058,"residual":-0.2,"actual":78.5,"fitted":78.7},
{"obs":2062,"residual":-1.6,"actual":77.1,"fitted":78.7},
{"obs":2065,"residual":-5.7,"actual":73.0,"fitted":78.7},
{"obs":2069,"residual":-7.1,"actual":71.6,"fitted":78.7},
{"obs":2071,"residual":-10.4,"actual":68.3,"fitted":78.7},
{"obs":2074,"residual":-11.8,"actual":66.9,"fitted":78.7},
{"obs":2078,"residual":-15.9,"actual":62.8,"fitted":78.7},
{"obs":2081,"residual":-18.6,"actual":60.1,"fitted":78.7},
{"obs":2085,"residual":-19.3,"actual":59.4,"fitted":78.7},
{"obs":2089,"residual":-17.2,"actual":61.5,"fitted":78.7},
{"obs":2093,"residual":-19.3,"actual":59.4,"fitted":78.7},
{"obs":2097,"residual":-22.7,"actual":56.0,"fitted":78.7},
{"obs":2099,"residual":-26.7,"actual":52.0,"fitted":78.7},
{"obs":2102,"residual":-24.7,"actual":54.0,"fitted":78.7},
{"obs":2103,"residual":-11.8,"actual":66.9,"fitted":78.7},
{"obs":2107,"residual":-22.7,"actual":56.0,"fitted":78.7},
{"obs":2110,"residual":-18.6,"actual":60.1,"fitted":78.7},
{"obs":2113,"residual":-16.6,"actual":62.1,"fitted":78.7},
{"obs":2117,"residual":-15.9,"actual":62.8,"fitted":78.7},
{"obs":2121,"residual":-15.2,"actual":63.5,"fitted":78.7},
{"obs":2125,"residual":-15.9,"actual":62.8,"fitted":78.7},
{"obs":2129,"residual":-15.2,"actual":63.5,"fitted":78.7},
{"obs":2133,"residual":-13.2,"actual":65.5,"fitted":78.7},
{"obs":2137,"residual":-11.1,"actual":67.6,"fitted":78.7},
{"obs":2141,"residual":-11.8,"actual":66.9,"fitted":78.7},
{"obs":2146,"residual":-13.2,"actual":65.5,"fitted":78.7},
{"obs":2149,"residual":-11.8,"actual":66.9,"fitted":78.7},
{"obs":2154,"residual":-10.4,"actual":68.3,"fitted":78.7},
{"obs":2158,"residual":-9.1,"actual":69.6,"fitted":78.7},
{"obs":2162,"residual":-8.4,"actual":70.3,"fitted":78.7},
{"obs":2166,"residual":-7.1,"actual":71.6,"fitted":78.7},
{"obs":2170,"residual":-6.4,"actual":72.3,"fitted":78.7},
{"obs":2174,"residual":-5.7,"actual":73.0,"fitted":78.7},
{"obs":2178,"residual":-5.0,"actual":73.7,"fitted":78.7},
{"obs":2180,"residual":-3.0,"actual":75.7,"fitted":78.7},
{"obs":2184,"residual":-5.7,"actual":73.0,"fitted":78.7},
{"obs":2188,"residual":-6.4,"actual":72.3,"fitted":78.7},
{"obs":2192,"residual":-5.7,"actual":73.0,"fitted":78.7},
{"obs":2195,"residual":-3.0,"actual":75.7,"fitted":78.7},
{"obs":2197,"residual":-22.0,"actual":56.7,"fitted":78.7},
{"obs":2200,"residual":-18.6,"actual":60.1,"fitted":78.7},
{"obs":2204,"residual":-17.2,"actual":61.5,"fitted":78.7},
{"obs":2207,"residual":-18.6,"actual":60.1,"fitted":78.7},
{"obs":2210,"residual":-17.2,"actual":61.5,"fitted":78.7},
{"obs":2213,"residual":-17.9,"actual":60.8,"fitted":78.7},
{"obs":2217,"residual":-15.9,"actual":62.8,"fitted":78.7},
{"obs":2220,"residual":-13.2,"actual":65.5,"fitted":78.7},
{"obs":2223,"residual":-7.7,"actual":71.0,"fitted":78.7},
{"obs":2226,"residual":-11.8,"actual":66.9,"fitted":78.7},
{"obs":2230,"residual":-13.9,"actual":64.8,"fitted":78.7},
{"obs":2233,"residual":-13.2,"actual":65.5,"fitted":78.7},
{"obs":2236,"residual":-16.6,"actual":62.1,"fitted":78.7},
{"obs":2239,"residual":-17.2,"actual":61.5,"fitted":78.7},
{"obs":2243,"residual":-20.0,"actual":58.7,"fitted":78.7},
{"obs":2246,"residual":-17.9,"actual":60.8,"fitted":78.7},
{"obs":2251,"residual":-18.6,"actual":60.1,"fitted":78.7},
{"obs":2255,"residual":-17.2,"actual":61.5,"fitted":78.7},
{"obs":2259,"residual":-16.6,"actual":62.1,"fitted":78.7},
{"obs":2263,"residual":-15.9,"actual":62.8,"fitted":78.7},
{"obs":2267,"residual":-16.6,"actual":62.1,"fitted":78.7},
{"obs":2271,"residual":-15.2,"actual":63.5,"fitted":78.7},
{"obs":2275,"residual":-13.2,"actual":65.5,"fitted":78.7},
{"obs":2279,"residual":-14.5,"actual":64.2,"fitted":78.7},
{"obs":2283,"residual":-12.5,"actual":66.2,"fitted":78.7},
{"obs":2287,"residual":-10.4,"actual":68.3,"fitted":78.7},
{"obs":2291,"residual":-9.1,"actual":69.6,"fitted":78.7},
{"obs":2295,"residual":-8.4,"actual":70.3,"fitted":78.7},
{"obs":2299,"residual":-7.7,"actual":71.0,"fitted":78.7},
{"obs":2303,"residual":-7.1,"actual":71.6,"fitted":78.7},
{"obs":2307,"residual":-10.4,"actual":68.3,"fitted":78.7},
{"obs":2311,"residual":-11.8,"actual":66.9,"fitted":78.7},
{"obs":2315,"residual":-15.2,"actual":63.5,"fitted":78.7},
{"obs":2319,"residual":-17.2,"actual":61.5,"fitted":78.7},
{"obs":2323,"residual":-20.6,"actual":58.1,"fitted":78.7},
{"obs":2327,"residual":-21.3,"actual":57.4,"fitted":78.7},
{"obs":2331,"residual":-17.2,"actual":61.5,"fitted":78.7},
{"obs":2335,"residual":-19.3,"actual":59.4,"fitted":78.7},
{"obs":2340,"residual":-23.4,"actual":55.3,"fitted":78.7},
{"obs":2343,"residual":-25.4,"actual":53.3,"fitted":78.7},
{"obs":2346,"residual":-31.5,"actual":47.2,"fitted":78.7},
{"obs":2348,"residual":-41.0,"actual":37.7,"fitted":78.7},
{"obs":2351,"residual":-45.1,"actual":33.6,"fitted":78.7},
{"obs":2354,"residual":-50.6,"actual":28.1,"fitted":78.7},
{"obs":2357,"residual":-53.9,"actual":24.8,"fitted":78.7},
{"obs":2360,"residual":-58.0,"actual":20.7,"fitted":78.7},
{"obs":2363,"residual":-67.5,"actual":11.2,"fitted":78.7},
{"obs":2365,"residual":-60.1,"actual":18.6,"fitted":78.7},
{"obs":2369,"residual":-58.7,"actual":20.0,"fitted":78.7},
{"obs":2372,"residual":-62.1,"actual":16.6,"fitted":78.7},
{"obs":2375,"residual":-65.5,"actual":13.2,"fitted":78.7},
{"obs":2377,"residual":-71.6,"actual":7.1,"fitted":78.7},
{"obs":2381,"residual":-67.5,"actual":11.2,"fitted":78.7},
{"obs":2384,"residual":-60.1,"actual":18.6,"fitted":78.7},
{"obs":2387,"residual":-53.3,"actual":25.4,"fitted":78.7},
{"obs":2390,"residual":-50.6,"actual":28.1,"fitted":78.7},
{"obs":2394,"residual":-47.8,"actual":30.9,"fitted":78.7},
{"obs":2397,"residual":-45.1,"actual":33.6,"fitted":78.7},
{"obs":2400,"residual":-43.8,"actual":34.9,"fitted":78.7},
{"obs":2403,"residual":-41.0,"actual":37.7,"fitted":78.7},
{"obs":2407,"residual":-37.6,"actual":41.1,"fitted":78.7},
{"obs":2410,"residual":-39.0,"actual":39.7,"fitted":78.7},
{"obs":2413,"residual":-36.9,"actual":41.8,"fitted":78.7},
{"obs":2416,"residual":-37.6,"actual":41.1,"fitted":78.7},
{"obs":2420,"residual":-35.6,"actual":43.1,"fitted":78.7},
{"obs":2423,"residual":-36.3,"actual":42.4,"fitted":78.7},
{"obs":2426,"residual":-34.3,"actual":44.4,"fitted":78.7},
{"obs":2429,"residual":-34.0,"actual":44.7,"fitted":78.7},
{"obs":2433,"residual":-33.5,"actual":45.2,"fitted":78.7}
]
},
"layer": [
  {
    "layer": [
      {
        "data": {"values": [{"level": 0}]},
        "mark": {"type": "rule", "color": "black", "strokeWidth": 1.2},
        "encoding": {
          "y": {"field": "level", "type": "quantitative",
                "scale": {"domain": [-80, 140.5], "nice": false, "zero": false},
                "axis": {"orient": "left", "title": null, "values": [-80, -40, 0, 40, 80], "tickCount": 20, "labelExpr": "datum.value < 0 ? '-' + abs(datum.value) : '' + datum.value", "tickSize": 12, "tickWidth": 1.5, "labelPadding": 8, "labelFont": "DejaVu Sans", "labelFontSize": 23.5, "labelOffset": -6}}
        }
      },
      {
        "data": {"values": [{"level": 28.4}, {"level": -28.4}]},
        "mark": {"type": "rule", "color": "#a8a8a8", "strokeWidth": 1.2, "strokeDash": [6, 3]},
        "encoding": {
          "y": {"field": "level", "type": "quantitative",
                "scale": {"domain": [-80, 140.5], "nice": false, "zero": false},
                "axis": {"orient": "left", "title": null, "values": [-80, -40, 0, 40, 80], "tickCount": 20, "labelExpr": "datum.value < 0 ? '-' + abs(datum.value) : '' + datum.value", "tickSize": 12, "tickWidth": 1.5, "labelPadding": 8, "labelFont": "DejaVu Sans", "labelFontSize": 23.5, "labelOffset": -6}}
        }
      },
      {
        "data": {"name": "series"},
        "mark": {"type": "line", "strokeWidth": 2},
        "encoding": {
          "x": {"field": "obs", "type": "quantitative",
                "scale": {"domain": [1, 2433], "nice": false, "zero": false},
                "axis": {"title": null, "values": [25,50,75,100,125,150,175,200,225,250,275,300,325,350,375,400,425,450,475,500,525,550,575,600,625,650,675,700,725,750,775,800,825,850,875,900,925,950,975,1000,1025,1050,1075,1100,1125,1150,1175,1200,1225,1250,1275,1300,1325,1350,1375,1400,1425,1450,1475,1500,1525,1550,1575,1600,1625,1650,1675,1700,1725,1750,1775,1800,1825,1850,1875,1900,1925,1950,1975,2000,2025,2050,2075,2100,2125,2150,2175,2200,2225,2250,2275,2300,2325,2350,2375,2400,2425],
                         "tickCount": 500,
                         "labelExpr": "datum.value % 250 === 0 ? '' + datum.value : ''",
                         "tickSize": {"condition": {"test": "datum.value % 250 === 0", "value": 12}, "value": 8},
                         "tickDash": {"condition": {"test": "datum.value % 250 === 0", "value": [20, 0]}, "value": [0, 3, 4, 20]},
                         "tickWidth": 1,
                         "labelPadding": 6,
                         "labelFont": "Liberation Sans",
                         "labelFontSize": 27,
                         "labelOverlap": false,
                         "labelFlush": false}},
          "y": {"field": "residual", "type": "quantitative",
                "scale": {"domain": [-80, 140.5], "nice": false, "zero": false},
                "axis": {"orient": "left", "title": null, "values": [-80, -40, 0, 40, 80], "tickCount": 20, "labelExpr": "datum.value < 0 ? '-' + abs(datum.value) : '' + datum.value", "tickSize": 12, "tickWidth": 1.5, "labelPadding": 8, "labelFont": "DejaVu Sans", "labelFontSize": 23.5, "labelOffset": -6}},
          "color": {"datum": "Residual",
                    "scale": {"domain": ["Residual", "Actual", "Fitted"], "range": ["#0000ff", "#ff0000", "#008000"]},
                    "legend": {"title": null, "orient": "none", "legendX": 219, "legendY": 625.2, "direction": "horizontal",
                               "symbolType": "stroke", "symbolSize": 4356, "symbolStrokeWidth": 2, "clipHeight": 24,
                               "padding": 5, "symbolOffset": 9, "labelOffset": 10, "columnPadding": 12.5,
                               "labelFont": "Liberation Sans", "labelFontSize": 28, "labelColor": "black", "labelLimit": 0,
                               "strokeColor": "black", "fillColor": "white"}}
        }
      }
    ]
  },
  {
    "layer": [
      {
        "data": {"name": "series"},
        "mark": {"type": "line", "strokeWidth": 2},
        "encoding": {
          "x": {"field": "obs", "type": "quantitative"},
          "y": {"field": "actual", "type": "quantitative",
                "scale": {"domain": [-60, 160.5], "nice": false, "zero": false},
                "axis": {"orient": "right", "title": null, "values": [0, 40, 80, 120, 160], "tickCount": 20, "format": "d", "tickSize": 13, "tickWidth": 1.5, "labelPadding": 8.5, "labelFont": "DejaVu Sans", "labelFontSize": 23.5, "labelOffset": -6}},
          "color": {"datum": "Actual"}
        }
      },
      {
        "data": {"name": "series"},
        "mark": {"type": "line", "strokeWidth": 1.5},
        "encoding": {
          "x": {"field": "obs", "type": "quantitative"},
          "y": {"field": "fitted", "type": "quantitative",
                "scale": {"domain": [-60, 160.5], "nice": false, "zero": false},
                "axis": {"orient": "right", "title": null, "values": [0, 40, 80, 120, 160], "tickCount": 20, "format": "d", "tickSize": 13, "tickWidth": 1.5, "labelPadding": 8.5, "labelFont": "DejaVu Sans", "labelFontSize": 23.5, "labelOffset": -6}},
          "color": {"datum": "Fitted"}
        }
      }
    ]
  }
],
"resolve": {"scale": {"y": "independent"}}
}
